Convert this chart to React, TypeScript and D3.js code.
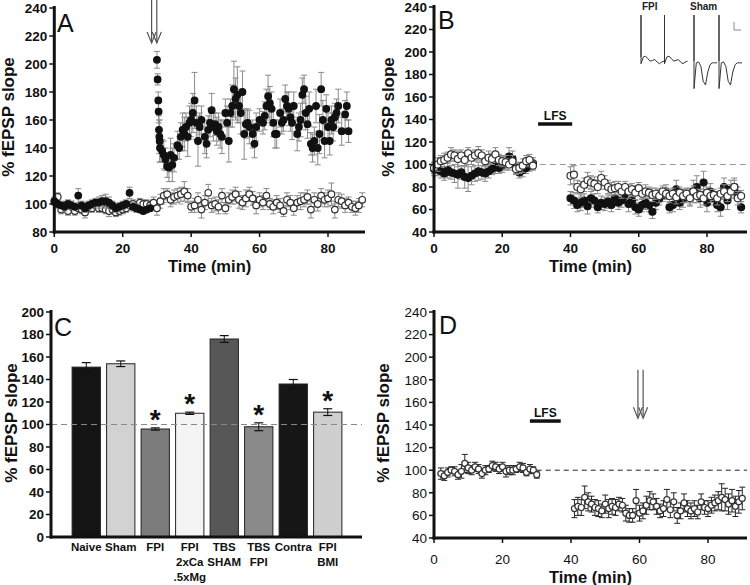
import React from "react";
import * as d3 from "d3";

const FONT = "'Liberation Sans', Arial, Helvetica, sans-serif";

// ---------------- Panel A data ----------------
const A_FPI_BASE_TIME = [0,1,2,3,4,5,6,7,8,9,10,11,12,13,14,15,16,17,18,19,20,21,22,23,24,25,26,27,28];
const A_FPI_BASE_VALUE = [102,100,99,98,100,99,98,106,99,97,99,100,101,101,102,102,101,99,97,98,99,100,108,98,97,96,95,96,97];
const A_FPI_BASE_SEM = [3,3,2,3,3,3,2,5,3,3,3,3,3,4,4,5,4,3,3,3,3,3,4,3,3,2,2,2,2];
const A_FPI_POST_TIME = [30.0,30.2,30.4,30.5,30.6,30.7,30.8,30.9,31.5,32,
 32.5,33,33.5,34,34.5,35,36,36.5,37,37.5,
 38,38.5,39,39.5,40,40.5,41,41.5,42,42.5,
 43,44,44.5,45,45.5,46,46.5,47,47.5,48,
 48.5,49,50,50.5,51,51.5,52,52.5,53,53.5,
 54,54.5,55,55.5,56,56.5,57,58,58.5,59,
 60,61,61.5,62,62.5,63,63.5,64,64.5,65,
 66,66.5,67,67.5,68,68.5,69,69.5,70,71,
 71.5,72,72.5,73,73.5,74,74.5,75,75.5,76,
 76.5,77,77.5,78,78.5,79,79.5,80,80.5,81,
 81.5,82,82.5,83,84,85,85.5,86];
const A_FPI_POST_VALUE = [203,189,174,166,153,148,145,140,138,135,
 132,127,126,135,128,133,142,140,148,153,
 150,155,148,158,160,165,174,158,145,155,
 160,148,143,153,158,167,155,157,152,155,
 150,148,165,158,145,165,170,182,175,178,
 170,165,180,150,157,158,155,150,143,155,
 160,158,163,170,177,172,168,158,150,150,
 165,158,160,175,170,168,162,158,170,150,
 155,160,178,182,165,157,168,143,140,145,
 170,140,150,182,160,145,168,155,145,160,
 155,162,165,170,152,164,170,152];
const A_FPI_POST_SEM = [6,4,6,8,10,12,15,10,8,10,
 8,8,10,12,12,10,10,8,10,12,
 12,10,14,12,12,14,20,12,18,10,
 10,12,10,10,10,12,10,8,10,10,
 10,12,10,12,15,10,15,20,15,20,
 12,15,15,18,10,10,12,10,10,10,
 8,8,10,12,15,12,12,10,10,10,
 10,8,8,10,10,12,10,12,10,12,
 10,12,12,10,12,10,12,8,10,10,
 12,12,14,12,14,12,10,10,10,10,
 10,10,10,12,10,10,10,8];
const A_SHAM_TIME = d3.range(1, 91);
const A_SHAM_VALUE = [105,96,99,95,98,95,97,96,94,98,
 97,99,97,97,96,95,96,94,95,96,
 97,99,100,98,101,100,100,99,101,97,
 102,106,107,103,105,106,107,109,106,98,
 99,103,96,101,108,99,100,98,106,97,
 103,105,107,103,101,104,107,104,99,103,
 101,106,100,98,101,99,95,103,101,97,
 101,102,103,105,96,103,100,106,103,104,
 107,96,103,102,99,101,98,97,99,103];
const A_SHAM_SEM = [3,3,3,3,4,3,3,3,4,3,
 3,3,3,3,3,4,3,3,3,3,
 3,3,3,3,3,3,3,3,4,5,
 5,5,4,5,5,5,5,7,5,4,
 5,5,6,5,6,5,5,5,5,4,
 5,5,5,6,5,6,5,5,6,5,
 5,5,4,5,5,5,4,5,5,5,
 5,6,5,5,6,5,5,5,5,6,
 8,6,5,5,5,4,4,5,5,5];
const A_ARROW_TIME = 29.2;
const A_ARROW_VALUES = [246, 215];

// ---------------- Panel B data ----------------
const B_BASE_TIME = d3.range(0, 30);
const B_POST_TIME = d3.range(40, 91);
const B_SHAM_BASE = [97,100,103,104,106,109,108,105,108,104,110,106,108,110,108,103,106,105,109,104,103,102,100,103,96,97,99,103,104,99];
const B_FPI_BASE = [96,95,94,92,95,93,92,91,93,89,88,90,92,94,93,92,94,96,98,97,99,101,107,105,97,93,95,97,99,101];
const B_SHAM_POST = [90,91,80,78,82,86,84,83,80,88,
 84,80,78,79,80,76,80,76,78,75,
 79,74,76,75,73,74,72,76,74,72,
 74,71,75,72,74,70,76,72,73,70,
 75,72,73,70,74,76,72,76,80,70,
 72];
const B_FPI_POST = [70,68,64,66,68,63,70,68,62,66,
 65,67,64,70,66,68,72,65,68,62,
 60,64,66,64,58,66,70,73,76,62,
 64,78,66,70,72,71,76,80,70,84,
 66,76,70,64,62,80,68,78,80,74,
 62];
const B_SHAM_BASE_SEM = [5,6,5,6,5,6,5,7,5,6,5,6,5,6,5,5,6,5,6,5,5,6,5,5,5,5,6,5,5,4];
const B_FPI_BASE_SEM = [6,5,6,6,7,6,8,12,6,10,12,8,7,8,6,7,6,5,6,5,6,6,8,7,5,5,6,5,5,5];
const B_SHAM_POST_SEM = [8,8,6,7,6,7,6,6,6,6,6,6,6,6,5,6,5,6,5,6,5,5,6,5,6,5,6,5,5,6,5,6,5,6,5,6,5,6,5,6,5,6,5,6,5,6,5,6,6,6,5];
const B_FPI_POST_SEM = [6,7,6,7,6,7,6,6,5,6,6,6,6,6,6,6,6,7,6,6,6,6,6,6,6,6,6,6,6,5,6,8,6,8,6,8,10,10,8,10,8,7,6,6,8,8,8,8,8,6,5];
const B_LFS_TIMES = [30.5, 40.5];
const B_LFS_VALUE = 136;
// inset sweeps (relative time units / relative amplitude)
const TRACE_TIME = [0, 0, 0, 1, 2, 3, 4, 5, 6, 7, 8, 9, 10];
const FPI_TRACE = [0, 50, -8, 0, 1, -2, -5, -4, -3, -6, -8, -6, -5];
const SHAM_TRACE = [0, 50, -30, -2, -1, -6, -22, -26, -12, -4, -2, -2, -2];
const TRACE_LABELS = ["FPI", "Sham"];

// ---------------- Panel C data ----------------
const C_CATEGORIES = ["Naive", "Sham", "FPI", "FPI\n2xCa\n.5xMg", "TBS\nSHAM", "TBS\nFPI", "Contra", "FPI\nBMI"];
const C_VALUES = [151, 154, 96, 110, 176, 98, 136, 111];
const C_SEM = [4, 2.5, 1, 1, 3, 3.5, 4, 3];
const C_COLORS = ["#141414", "#d2d2d2", "#7c7c7c", "#f4f4f4", "#575757", "#8a8a8a", "#161616", "#cfcfcf"];
const C_STAR = [false, false, true, true, false, true, false, true];

// ---------------- Panel D data ----------------
const D_BASE_TIME = d3.range(2, 31);
const D_POST_TIME = d3.range(41, 91);
const D_BASE = [97,95,98,100,99,96,99,106,102,100,103,101,97,100,101,104,103,101,103,99,100,100,101,103,102,98,101,100,96];
const D_POST = [66,68,67,76,72,70,67,66,64,70,
 66,68,67,70,69,62,60,60,73,62,
 64,69,73,72,68,64,66,74,65,72,
 60,64,71,66,64,66,63,72,67,66,
 69,71,73,76,74,70,73,68,72,75];
const D_BASE_SEM = [5,4,4,3,4,4,6,8,5,4,4,4,4,4,3,4,4,4,4,5,4,4,3,4,4,3,4,3,3];
const D_POST_SEM = [8,8,7,10,8,7,7,7,6,8,8,7,7,6,6,7,6,6,10,7,7,8,8,7,7,6,7,9,7,8,7,7,8,7,7,7,6,7,6,7,7,7,8,12,10,9,10,9,10,10];
const D_LFS_TIMES = [28, 37];
const D_LFS_VALUE = 143.5;
const D_ARROW_TIME = 60.3;
const D_ARROW_VALUES = [189, 146];

const X_TICKS = [0, 20, 40, 60, 80];
const Y_TICKS_A = d3.range(80, 241, 20);
const Y_TICKS_BD = d3.range(40, 241, 20);
const Y_TICKS_C = d3.range(0, 201, 20);

type Pt = { t: number; v: number; e: number };
const zip = (t: number[], v: number[], e: number[]): Pt[] => t.map((tt, i) => ({ t: tt, v: v[i], e: e[i] }));

function Dots({ pts, x, y, r, filled, errColor, cap }: any) {
  return (
    <g>
      {pts.map((p: Pt, i: number) => (
        <g key={"e" + i} stroke={errColor} strokeWidth={1}>
          <line x1={x(p.t)} x2={x(p.t)} y1={y(p.v + p.e)} y2={y(p.v - p.e)} />
          <line x1={x(p.t) - cap} x2={x(p.t) + cap} y1={y(p.v + p.e)} y2={y(p.v + p.e)} />
          <line x1={x(p.t) - cap} x2={x(p.t) + cap} y1={y(p.v - p.e)} y2={y(p.v - p.e)} />
        </g>
      ))}
      {pts.map((p: Pt, i: number) => (
        <circle key={"c" + i} cx={x(p.t)} cy={y(p.v)} r={r}
          fill={filled ? "#111" : "#fff"} stroke={filled ? "#111" : "#333"} strokeWidth={1.2} />
      ))}
    </g>
  );
}

function Axes({ x, y, xTicks, yTicks, xEnd, yTopVal, bold, xLabelY, titleY, yLabelX, yLabelCenter, letter, letterPos }: any) {
  const x0 = x.range ? x(0) : 0;
  const yBot = y(y.domain()[0]);
  const yTop = y(yTopVal);
  const fw = bold ? "bold" : "normal";
  return (
    <g fontFamily={FONT}>
      {yTicks.map((v: number) => (
        <g key={"y" + v}>
          <line x1={x0 - 5} x2={x0} y1={y(v)} y2={y(v)} stroke="#111" strokeWidth={1.5} />
          <text x={x0 - 7} y={y(v)} dy="0.35em" textAnchor="end" fontSize={13.5} fontWeight={fw} fill="#111">{v}</text>
        </g>
      ))}
      {xTicks && xTicks.map((v: number) => (
        <g key={"x" + v}>
          <line x1={x(v)} x2={x(v)} y1={yBot} y2={yBot + 5} stroke="#111" strokeWidth={1.5} />
          <text x={x(v)} y={xLabelY} textAnchor="middle" fontSize={13.5} fontWeight={fw} fill="#111">{v}</text>
        </g>
      ))}
      <line x1={x0} x2={x0} y1={yTop - 2} y2={yBot + 1.5} stroke="#111" strokeWidth={3} />
      <line x1={x0 - 1.5} x2={xEnd} y1={yBot} y2={yBot} stroke="#111" strokeWidth={3} />
      {titleY && (
        <text x={(x0 + xEnd) / 2} y={titleY} textAnchor="middle" fontSize={16.5} fontWeight="bold" fill="#111">Time (min)</text>
      )}
      <text transform={`translate(${yLabelX},${yLabelCenter}) rotate(-90)`} textAnchor="middle" fontSize={17} fontWeight="bold" fill="#111">% fEPSP slope</text>
      <text x={letterPos[0]} y={letterPos[1]} fontSize={25} fill="#111">{letter}</text>
    </g>
  );
}

function Arrow({ xc, y1, y2 }: any) {
  return (
    <g stroke="#555" strokeWidth={1.2} fill="none">
      {[-2.6, 2.6].map((d) => (
        <g key={d}>
          <line x1={xc + d} x2={xc + d} y1={y1} y2={y2} />
          <polyline points={`${xc + d - 4.5},${y2 - 11} ${xc + d},${y2} ${xc + d + 4.5},${y2 - 11}`} />
        </g>
      ))}
    </g>
  );
}

function LFS({ x, y, times, value }: any) {
  const xa = x(times[0]), xb = x(times[1]);
  return (
    <g fontFamily={FONT}>
      <line x1={xa} x2={xb} y1={y(value)} y2={y(value)} stroke="#111" strokeWidth={3.5} />
      <text x={(xa + xb) / 2} y={y(value) - 4} textAnchor="middle" fontSize={12} fontWeight="bold" fill="#111">LFS</text>
    </g>
  );
}

function PanelA() {
  const x = d3.scaleLinear().domain([0, 80]).range([54.3, 328]);
  const y = d3.scaleLinear().domain([80, 240]).range([232, 8]);
  const fpi = zip(A_FPI_BASE_TIME, A_FPI_BASE_VALUE, A_FPI_BASE_SEM).concat(zip(A_FPI_POST_TIME, A_FPI_POST_VALUE, A_FPI_POST_SEM));
  const sham = zip(A_SHAM_TIME, A_SHAM_VALUE, A_SHAM_SEM);
  return (
    <g>
      <line x1={x(31)} x2={365} y1={y(100)} y2={y(100)} stroke="#999" strokeWidth={1.2} strokeDasharray="5,4" />
      <Dots pts={sham} x={x} y={y} r={3.3} filled={false} errColor="#8a8a8a" cap={3} />
      <Dots pts={fpi} x={x} y={y} r={3.3} filled={true} errColor="#8a8a8a" cap={3} />
      <Arrow xc={x(A_ARROW_TIME)} y1={y(A_ARROW_VALUES[0])} y2={y(A_ARROW_VALUES[1])} />
      <Axes x={x} y={y} xTicks={X_TICKS} yTicks={Y_TICKS_A} xEnd={365} yTopVal={240} bold={true}
        xLabelY={253} titleY={271.5} yLabelX={14} yLabelCenter={117} letter="A" letterPos={[57, 32]} />
    </g>
  );
}

function Inset() {
  const tx = d3.scaleLinear().domain([0, 10]).range([0, 23]);
  const tyF = d3.scaleLinear().domain([0, 50]).range([57, 15]);
  const tyS = d3.scaleLinear().domain([0, 50]).range([61, 15]);
  const starts = [641, 664.5, 694, 719];
  const lineF = d3.line<number>().x((_, i) => tx(TRACE_TIME[i])).y((d) => tyF(d));
  const lineS = d3.line<number>().x((_, i) => tx(TRACE_TIME[i])).y((d) => tyS(d));
  return (
    <g fill="none" stroke="#333" strokeWidth={1}>
      {starts.map((s, k) => (
        <path key={k} transform={`translate(${s},0)`} d={(k < 2 ? lineF(FPI_TRACE) : lineS(SHAM_TRACE)) || ""} />
      ))}
      <polyline points="734,22 734,30 741,30" stroke="#888" />
      <text x={642} y={10} fontFamily={FONT} fontSize={10} fontWeight="bold" fill="#222" stroke="none">{TRACE_LABELS[0]}</text>
      <text x={690} y={10} fontFamily={FONT} fontSize={10} fontWeight="bold" fill="#222" stroke="none">{TRACE_LABELS[1]}</text>
    </g>
  );
}

function PanelB() {
  const x = d3.scaleLinear().domain([0, 80]).range([434, 707]);
  const y = d3.scaleLinear().domain([40, 240]).range([232, 7]);
  const sham = zip(B_BASE_TIME, B_SHAM_BASE, B_SHAM_BASE_SEM).concat(zip(B_POST_TIME, B_SHAM_POST, B_SHAM_POST_SEM));
  const fpi = zip(B_BASE_TIME, B_FPI_BASE, B_FPI_BASE_SEM).concat(zip(B_POST_TIME, B_FPI_POST, B_FPI_POST_SEM));
  return (
    <g>
      <line x1={x(31)} x2={747} y1={y(100)} y2={y(100)} stroke="#999" strokeWidth={1.2} strokeDasharray="6,4" />
      <Dots pts={fpi} x={x} y={y} r={3.5} filled={true} errColor="#8a8a8a" cap={3} />
      <Dots pts={sham} x={x} y={y} r={3.5} filled={false} errColor="#8a8a8a" cap={3} />
      <LFS x={x} y={y} times={B_LFS_TIMES} value={B_LFS_VALUE} />
      <Inset />
      <Axes x={x} y={y} xTicks={X_TICKS} yTicks={Y_TICKS_BD} xEnd={747} yTopVal={240} bold={true}
        xLabelY={253} titleY={271.5} yLabelX={394} yLabelCenter={117} letter="B" letterPos={[438, 29]} />
    </g>
  );
}

function PanelC() {
  const y = d3.scaleLinear().domain([0, 200]).range([537, 312]);
  const xb = d3.scaleBand<string>().domain(C_CATEGORIES).range([69, 345]).paddingInner(0.18).paddingOuter(0.09);
  const xAxis0 = 51;
  const fakeX: any = (v: number) => xAxis0;
  fakeX.range = () => [xAxis0];
  return (
    <g fontFamily={FONT}>
      {C_CATEGORIES.map((c, i) => {
        const bx = xb(c)!;
        const bw = xb.bandwidth();
        const cx = bx + bw / 2;
        const top = y(C_VALUES[i] + C_SEM[i]);
        return (
          <g key={c}>
            <rect x={bx} y={y(C_VALUES[i])} width={bw} height={y(0) - y(C_VALUES[i])} fill={C_COLORS[i]} stroke="#222" strokeWidth={1} />
            <line x1={cx} x2={cx} y1={top} y2={y(C_VALUES[i] - C_SEM[i])} stroke="#111" strokeWidth={1} />
            <line x1={cx - 4.5} x2={cx + 4.5} y1={top} y2={top} stroke="#111" strokeWidth={1.2} />
            <line x1={cx - 4.5} x2={cx + 4.5} y1={y(C_VALUES[i] - C_SEM[i])} y2={y(C_VALUES[i] - C_SEM[i])} stroke="#111" strokeWidth={1.2} />
            {C_STAR[i] && (
              <text x={cx} y={top - 2} dy="0.62em" textAnchor="middle" fontSize={28} fontWeight="bold" fill="#111"
                transform={`translate(0,-14)`}>*</text>
            )}
            {c.split("\n").map((ln, k) => (
              <text key={k} x={cx} y={551 + k * 15} textAnchor="middle" fontSize={11.5} fontWeight="bold" fill="#111">{ln}</text>
            ))}
          </g>
        );
      })}
      <line x1={xAxis0} x2={362} y1={y(100)} y2={y(100)} stroke="#888" strokeWidth={1.2} strokeDasharray="6,4" />
      <Axes x={fakeX} y={y} xTicks={null} yTicks={Y_TICKS_C} xEnd={362} yTopVal={200} bold={true}
        xLabelY={0} titleY={null} yLabelX={17} yLabelCenter={423} letter="C" letterPos={[54, 336]} />
    </g>
  );
}

function PanelD() {
  const x = d3.scaleLinear().domain([0, 80]).range([434, 708]);
  const y = d3.scaleLinear().domain([40, 240]).range([538, 312]);
  const pts = zip(D_BASE_TIME, D_BASE, D_BASE_SEM).concat(zip(D_POST_TIME, D_POST, D_POST_SEM));
  return (
    <g>
      <line x1={x(30)} x2={747} y1={y(100)} y2={y(100)} stroke="#222" strokeWidth={1} strokeDasharray="5,4" />
      <Dots pts={pts} x={x} y={y} r={3} filled={false} errColor="#222" cap={3} />
      <LFS x={x} y={y} times={D_LFS_TIMES} value={D_LFS_VALUE} />
      <Arrow xc={x(D_ARROW_TIME)} y1={y(D_ARROW_VALUES[0])} y2={y(D_ARROW_VALUES[1])} />
      <Axes x={x} y={y} xTicks={X_TICKS} yTicks={Y_TICKS_BD} xEnd={747} yTopVal={240} bold={false}
        xLabelY={564} titleY={582.5} yLabelX={389} yLabelCenter={423} letter="D" letterPos={[439, 334]} />
    </g>
  );
}

export default function App() {
  return (
    <svg width={750} height={585} viewBox="0 0 750 585"
      style={{ position: "absolute", left: 0, top: 0, background: "#fff" }}>
      <rect width={750} height={585} fill="#fff" />
      <PanelA />
      <PanelB />
      <PanelC />
      <PanelD />
    </svg>
  );
}
